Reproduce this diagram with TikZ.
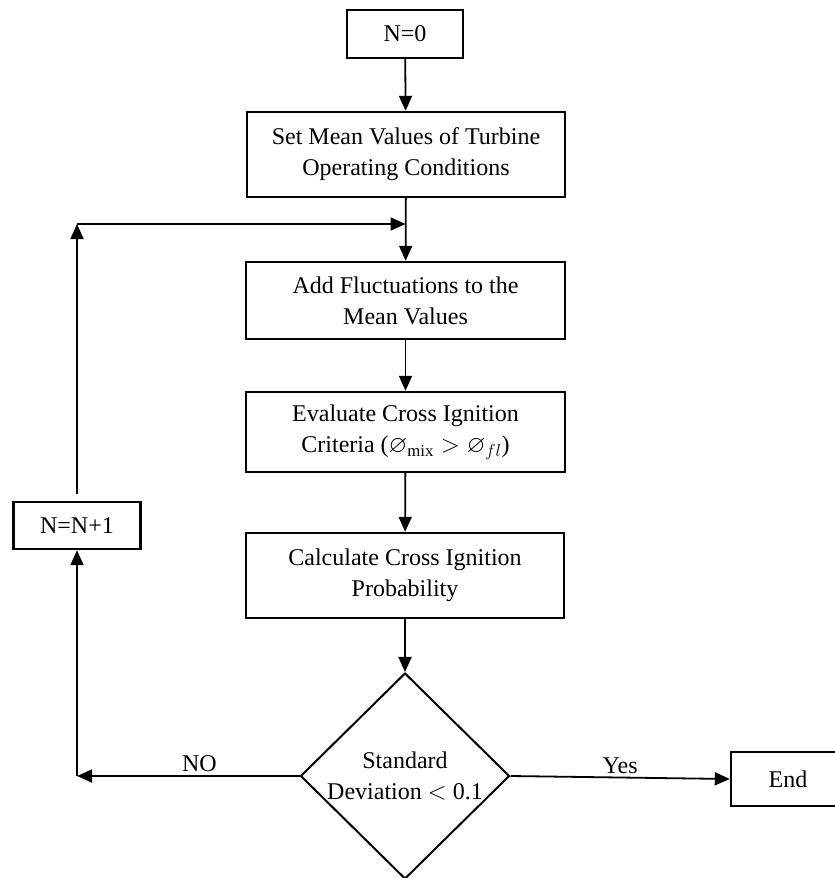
\documentclass[tikz,border=0pt]{standalone}
\usepackage{amssymb}
\usepackage{fontspec}
\setmainfont{Liberation Serif}
\usetikzlibrary{shapes.geometric, arrows.meta}

\begin{document}
\begin{tikzpicture}[x=1pt, y=-1pt,
    box/.style={draw, line width=2.4pt, align=center, inner sep=0pt},
    line/.style={line width=1.8pt, -{Triangle[length=15pt, width=13pt]}},
    font=\fontsize{24}{31}\selectfont]
    \useasboundingbox (0,0) rectangle (835,878);
    \clip (0,0) rectangle (835,878);
    \node[box, minimum width=116pt, minimum height=48pt] at (405,34) (1) {N=0};
    \node[box, minimum width=318pt, minimum height=85pt] at (406,154.5) (2) {Set Mean Values of Turbine\\Operating Conditions};
    \node[box, minimum width=319pt, minimum height=77pt] at (405.5,300.5) (3) {Add Fluctuations to the\\Mean Values};
    \node[box, minimum width=319pt, minimum height=80pt] at (405.5,432) (4) {Evaluate Cross Ignition\\Criteria ($\varnothing_{\mathrm{mix}} > \varnothing_{fl}$)};
    \node[box, minimum width=318pt, minimum height=85pt] at (405,575.5) (5) {Calculate Cross Ignition\\Probability};
    \node[box, diamond, line width=2pt, minimum width=209pt, minimum height=206pt] at (405,776) (6) {Standard\\Deviation $<$ 0.1};
    \node[box, minimum width=127pt, minimum height=47pt] at (77,525.5) (7) {N=N+1};
    \node[box, minimum width=114pt, minimum height=54pt] at (788,779) (8) {End};
    \coordinate (c1) at (77,776);
    \coordinate (c2) at (77,224);
    \coordinate (c3) at (405.5,224);
    \draw[line] (1) -- (2);
    \draw[line] (2) -- (3);
    \draw[line] (3) -- (4);
    \draw[line] (4) -- (5);
    \draw[line] (5) -- (6);
    \draw[line] (6.east) -- node[above, inner sep=3pt]{Yes} (8.west);
    \draw[line] (6.west) -- node[pos=0.45, above, inner sep=3pt]{NO} (c1);
    \draw[line] (c1) -- (7.south);
    \draw[line, shorten <=7pt] (7.north) -- (c2);
    \draw[line] (c2) -- (c3);
\end{tikzpicture}
\end{document}
